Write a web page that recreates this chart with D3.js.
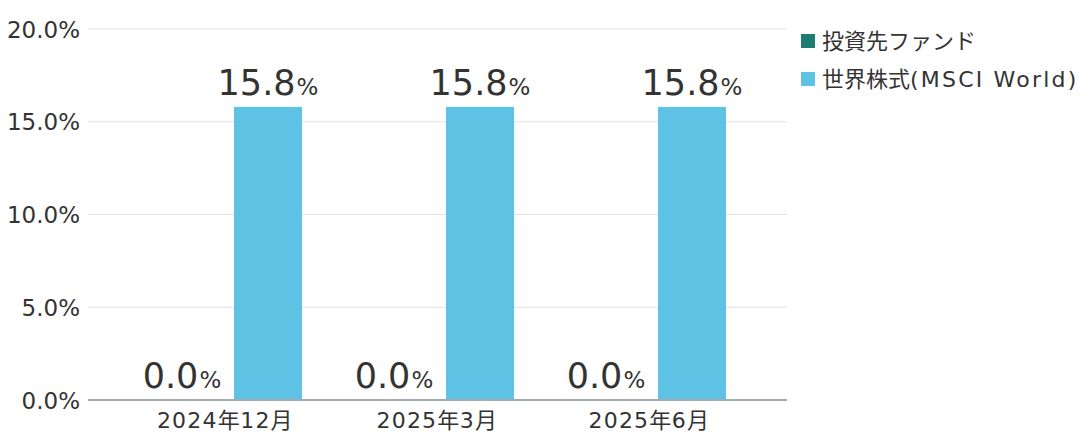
<!DOCTYPE html>
<html><head><meta charset="utf-8">
<script src="https://cdn.jsdelivr.net/npm/d3@7"></script>
<style>
body{margin:0;background:#fff;}
text{font-family:"DejaVu Sans","Noto Sans CJK JP",sans-serif;fill:#333;}
</style></head>
<body><svg id="c" width="1082" height="433"></svg>
<script>
const categories = ["2024年12月","2025年3月","2025年6月"];
const seriesNames = ["投資先ファンド","世界株式(MSCI World)"];
const fundValues = [0.0, 0.0, 0.0];
const worldValues = [15.8, 15.8, 15.8];
const yTicks = [0, 5, 10, 15, 20];
const colors = ["#1b7d72", "#5ec2e4"];

const svg = d3.select("#c");
const plotL = 88, plotR = 787, plotT = 29, plotB = 400;
const y = d3.scaleLinear().domain([0,20]).range([plotB, plotT]);
const x0 = d3.scaleBand().domain(categories).range([119, 755]).padding(0);
const x1 = d3.scaleBand().domain(seriesNames).range([0, x0.bandwidth()]).paddingInner(0.209).paddingOuter(0.337);

function runs(s){ return s.match(/[\x00-\x7F]+|[^\x00-\x7F]+/g); }
function fillRuns(sel, latinSpacing, cjkSpacing){
  sel.each(function(d){
    const t = d3.select(this); const s = t.text(); t.text(null);
    runs(s).forEach(r=>{
      const ascii = /^[\x00-\x7F]+$/.test(r);
      t.append("tspan").attr("letter-spacing", ascii?latinSpacing:cjkSpacing).text(r);
    });
  });
}

// gridlines
svg.append("g").selectAll("line").data(yTicks.filter(d=>d>0)).join("line")
  .attr("x1", plotL).attr("x2", plotR)
  .attr("y1", d=>y(d)).attr("y2", d=>y(d))
  .attr("stroke", "#dde2e7").attr("stroke-width", 1.2);

// y axis labels
const yAxis = d3.axisLeft(y).tickValues(yTicks).tickSize(0).tickPadding(0).tickFormat(d=>d.toFixed(1)+"%");
const ya = svg.append("g").attr("transform", `translate(80,0)`).call(yAxis);
ya.select(".domain").remove();
ya.selectAll("text").attr("font-size", 23).attr("fill","#444").attr("font-family",'"DejaVu Sans",sans-serif').attr("dy","0.35em");

const data = categories.map((c,i)=>({cat:c, vals:[fundValues[i], worldValues[i]]}));
const groups = svg.append("g").selectAll("g").data(data).join("g")
  .attr("transform", d=>`translate(${x0(d.cat)},0)`);
groups.selectAll("rect").data(d=>d.vals.map((v,j)=>({v, s:seriesNames[j], j}))).join("rect")
  .attr("x", d=>x1(d.s)).attr("width", x1.bandwidth())
  .attr("y", d=>y(d.v)).attr("height", d=>y(0)-y(d.v))
  .attr("fill", d=>colors[d.j]);
const lab = groups.selectAll("text.lab").data(d=>d.vals.map((v,j)=>({v, s:seriesNames[j]}))).join("text")
  .attr("class","lab")
  .attr("x", d=>x1(d.s)+x1.bandwidth()/2)
  .attr("y", d=>y(d.v)-12)
  .attr("text-anchor","middle")
  .attr("fill","#2a2a2a")
  .attr("font-family",'"DejaVu Sans",sans-serif');
lab.append("tspan").attr("font-size",35).text(d=>d.v.toFixed(1));
lab.append("tspan").attr("font-size",23).attr("dx",1).text("%");

// baseline
svg.append("line").attr("x1", plotL).attr("x2", plotR).attr("y1", y(0)).attr("y2", y(0))
  .attr("stroke","#a3abb2").attr("stroke-width",2);

// x axis labels
const xAxis = d3.axisBottom(x0).tickSize(0).tickPadding(0);
const xa = svg.append("g").attr("transform", `translate(0,${plotB})`).call(xAxis);
xa.select(".domain").remove();
xa.selectAll("text").attr("font-size",22).attr("fill","#444").attr("dy","1.25em")
  .attr("font-family",'"DejaVu Sans","Noto Sans CJK JP",sans-serif');
fillRuns(xa.selectAll("text"), 1.2, 0.5);

// legend
const leg = svg.append("g").selectAll("g").data(seriesNames).join("g")
  .attr("transform",(d,i)=>`translate(801,${34+i*38})`);
leg.append("rect").attr("width",14).attr("height",14).attr("fill",(d,i)=>colors[i]);
const lt = leg.append("text").attr("x",21).attr("y",7).attr("dy","0.35em").attr("font-size",22).attr("fill","#3a3a3a").text(d=>d);
fillRuns(lt, 2.2, 0);
</script></body></html>
